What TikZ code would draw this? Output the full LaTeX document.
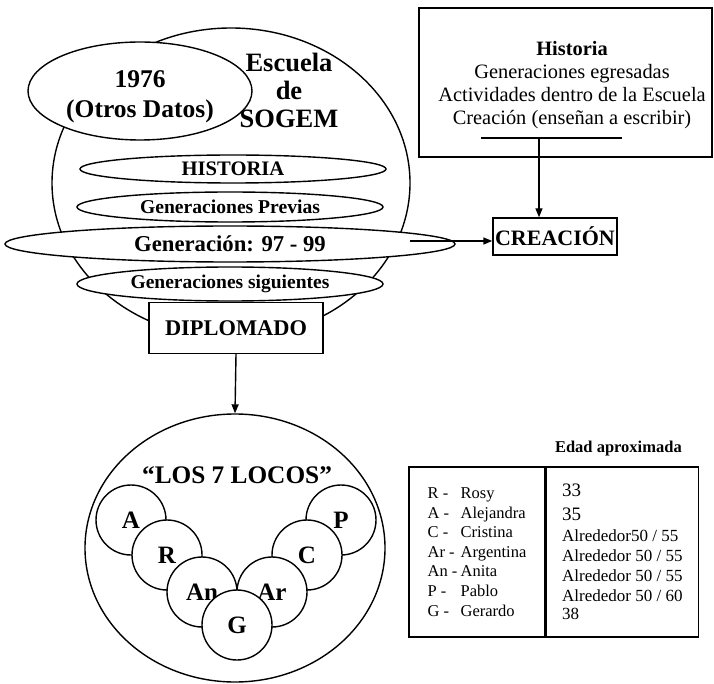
\documentclass[tikz,border=0pt]{standalone}
\usepackage{fontspec}
\setmainfont{Liberation Serif}
\usepackage{tikz}
\usetikzlibrary{arrows.meta, positioning, shapes.geometric}
\newcommand{\tam}[2]{\fontsize{#1}{#2}\selectfont}
\newcommand{\inic}[1]{\makebox[33pt][l]{#1}}

\begin{document}
\begin{tikzpicture}[x=1pt, y=-1pt,
        elip/.style={draw, ellipse, fill=white, inner sep=0pt, line width=1.4pt},
        caja/.style={draw, rectangle, fill=white, inner sep=0pt, line width=1.4pt},
        circ/.style={draw, circle, fill=white, minimum size=70pt, inner sep=0pt,
                     line width=1.4pt, font=\tam{25}{28}\bfseries},
        flecha/.style={-{Triangle[length=9pt, width=7pt]}, line width=1.4pt}]
        \useasboundingbox (0,0) rectangle (714,684);
        % Escuela
        \node[elip, fill=none, minimum width=358pt, minimum height=310pt] (escuela) at (231,183) {};
        \node[elip, minimum width=224pt, minimum height=98pt] (datos) at (140,91) {};
        \node[align=center, inner sep=0pt, font=\tam{25.5}{30}\bfseries] (datostxt) at (140,97)
          {1976\\(Otros Datos)};
        \node[align=center, inner sep=0pt, font=\tam{26.5}{28}\bfseries] (escuelatxt) at (289,90)
          {Escuela\\de\\SOGEM};
        \node[elip, minimum width=306pt, minimum height=28pt, font=\tam{20.6}{24}\bfseries]
          (historia) at (233,169) {HISTORIA};
        \node[elip, minimum width=306pt, minimum height=30pt, font=\tam{19.6}{22}\bfseries]
          (previas) at (230,207) {Generaciones Previas};
        \node[elip, minimum width=450pt, minimum height=36pt, font=\tam{22.7}{26}\bfseries]
          (generacion) at (230,244) {Generación: 97 - 99};
        \node[elip, minimum width=306pt, minimum height=34pt, font=\tam{19.5}{22}\bfseries]
          (siguientes) at (230,284) {Generaciones siguientes};
        \node[caja, minimum width=174pt, minimum height=51pt, font=\tam{22.4}{26}\bfseries]
          (diplomado) at (236,328) {DIPLOMADO};
        % Historia
        \node[caja, minimum width=293pt, minimum height=149pt] (marco) at (565.5,82.5) {};
        \node[align=center, inner sep=0pt, font=\tam{20.4}{23}] (lista) at (572,85)
          {\textbf{Historia}\\Generaciones egresadas\\Actividades dentro de la Escuela\\Creación (enseñan a escribir)};
        \coordinate (raya-izq) at (481,138);
        \coordinate (raya-der) at (622,138);
        \coordinate (raya-pie) at (539,138);
        \draw[line width=1.4pt] (raya-izq) -- (raya-der);
        \node[caja, minimum width=124pt, minimum height=37pt, font=\tam{22}{24}\bfseries]
          (creacion) at (555,236.5) {CREACIÓN};
        % Flechas
        \coordinate (gen-sal) at (410,241);
        \draw[flecha] (raya-pie) -- (raya-pie |- creacion.north);
        \draw[flecha] (gen-sal) -- (gen-sal -| creacion.west);
        % Los 7 locos
        \node[elip, fill=none, minimum width=300pt, minimum height=268pt] (locos) at (235,548) {};
        \draw[flecha] (diplomado.south) -- (locos.north);
        \node[inner sep=0pt, font=\tam{25.3}{28}\bfseries] (titulo) at (237,475) {“LOS 7 LOCOS”};
        \foreach \nom/\x/\y in {A/131/520, P/341/520, R/167/555, C/307/555,
                                An/202/592, Ar/272/592, G/237/625}
          \node[circ] (c\nom) at (\x,\y) {\nom};
        % Tabla
        \node[caja, minimum width=136pt, minimum height=170pt, align=left,
              font=\tam{16.5}{19.6}] (nombres) at (477,552)
          {\inic{R -}Rosy\\\inic{A -}Alejandra\\\inic{C -}Cristina\\\inic{Ar -}Argentina\\
           \inic{An -}Anita\\\inic{P -}Pablo\\\inic{G -}Gerardo};
        \node[caja, minimum width=152pt, minimum height=170pt, align=left,
              font=\tam{17}{20}, right=0pt of nombres] (edades)
          {{\tam{19}{20}33}\\[4pt]{\tam{19}{20}35}\\[1pt]Alrededor50 / 55\\Alrededor 50 / 55\\
           Alrededor 50 / 55\\Alrededor 50 / 60\\[-2pt]38};
        \node[above=10pt of edades, inner sep=0pt, xshift=-4pt,
              font=\tam{16.5}{20}\bfseries] (edad) {Edad aproximada};
\end{tikzpicture}
\end{document}
